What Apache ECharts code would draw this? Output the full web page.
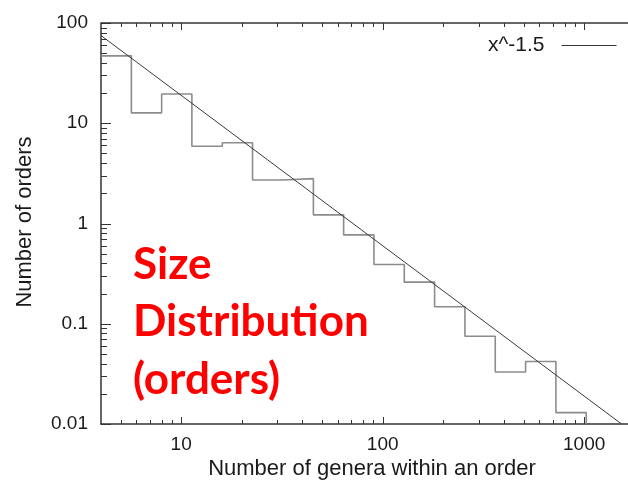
<!DOCTYPE html>
<html>
<head>
<meta charset="utf-8">
<script src="https://cdn.jsdelivr.net/npm/echarts@6/dist/echarts.min.js"></script>
<style>
html, body { margin: 0; padding: 0; background: #fff; }
#main { width: 628px; height: 487px; }
</style>
</head>
<body>
<div id="main"></div>
<script>
// log bins (factor sqrt 2) and their heights
var binEdges = [4, 5.66, 8, 11.3, 16, 22.6, 32, 45.3, 64, 90.5, 128, 181, 256, 362, 512, 724, 1024];
var binCounts = [47, 12.7, 19.6, 5.9, 6.4, 2.72, 2.8, 1.22, 0.77, 0.39, 0.26, 0.148, 0.075, 0.033, 0.042, 0.013];
// the x^-1.5 guide line, two end points
var fitX = [4, 1533];
var fitY = [75, 0.01];
// tick values
var xMajor = [10, 100, 1000];
var xMinor = [5, 6, 7, 8, 9, 20, 30, 40, 50, 60, 70, 80, 90, 200, 300, 400, 500, 600, 700, 800, 900];
var yMajor = [0.01, 0.1, 1, 10, 100];
var yMinor = [0.02, 0.03, 0.04, 0.05, 0.06, 0.07, 0.08, 0.09,
              0.2, 0.3, 0.4, 0.5, 0.6, 0.7, 0.8, 0.9,
              2, 3, 4, 5, 6, 7, 8, 9,
              20, 30, 40, 50, 60, 70, 80, 90];
var overlayLines = ['Size', 'Distribution', '(orders)'];

var xMin = 4, xMax = 1650, yMin = 0.01, yMax = 100;
var axisColor = '#333';
var txtColor = '#1a1a1a';
var tickFont = 'Liberation Sans, Arial, sans-serif';

// step points
var stepData = [];
for (var i = 0; i < binCounts.length; i++) {
	stepData.push([binEdges[i], binCounts[i]]);
}
stepData.push([binEdges[binEdges.length - 1], binCounts[binCounts.length - 1]]);
stepData.push([binEdges[binEdges.length - 1], yMin]);

var fitData = [];
for (var j = 0; j < fitX.length; j++) {
	fitData.push([fitX[j], fitY[j]]);
}

function seg(x1, y1, x2, y2, w) {
	return {
		type: 'line',
		shape: { x1: x1, y1: y1, x2: x2, y2: y2 },
		style: { stroke: axisColor, lineWidth: w || 1 }
	};
}

// gnuplot style frame: top border and inward ticks on the bottom, top and left edges
function renderFrame(params, api) {
	var left = api.coord([xMin, yMin])[0];
	var right = api.coord([xMax, yMin])[0];
	var bottom = api.coord([xMin, yMin])[1];
	var top = api.coord([xMin, yMax])[1];
	var kids = [seg(left, top, right, top, 1.5)];
	var n, p;
	for (n = 0; n < xMajor.length; n++) {
		p = Math.round(api.coord([xMajor[n], yMin])[0]) + 0.5;
		kids.push(seg(p, bottom, p, bottom - 7));
		kids.push(seg(p, top, p, top + 7));
	}
	for (n = 0; n < xMinor.length; n++) {
		p = Math.round(api.coord([xMinor[n], yMin])[0]) + 0.5;
		kids.push(seg(p, bottom, p, bottom - 4));
		kids.push(seg(p, top, p, top + 4));
	}
	for (n = 0; n < yMajor.length; n++) {
		p = Math.round(api.coord([xMin, yMajor[n]])[1]) + 0.5;
		kids.push(seg(left, p, left + 10, p));
	}
	for (n = 0; n < yMinor.length; n++) {
		p = Math.round(api.coord([xMin, yMinor[n]])[1]) + 0.5;
		kids.push(seg(left, p, left + 6, p));
	}
	return { type: 'group', children: kids };
}

var textEls = [{
	type: 'text',
	x: 372,
	y: 469,
	style: {
		text: 'Number of genera within an order',
		fill: txtColor,
		font: '22px ' + tickFont,
		align: 'center',
		verticalAlign: 'middle'
	}
}, {
	type: 'text',
	x: 25,
	y: 222,
	rotation: Math.PI / 2,
	style: {
		text: 'Number of orders',
		fill: txtColor,
		font: '22px ' + tickFont,
		align: 'center',
		verticalAlign: 'middle'
	}
}];
var lineY = [268, 325, 383];
for (var k = 0; k < overlayLines.length; k++) {
	textEls.push({
		type: 'text',
		left: 133,
		top: lineY[k] - 25,
		style: {
			text: overlayLines[k],
			fill: '#ff0000',
			font: 'bold 44px Lato, "Open Sans", sans-serif'
		}
	});
}

var myChart = echarts.init(document.getElementById('main'));
myChart.setOption({
	animation: false,
	backgroundColor: '#fff',
	grid: { left: 101, right: 0, top: 23, bottom: 63, outerBoundsMode: 'none' },
	legend: {
		data: ['x^-1.5'],
		left: 483,
		top: 30,
		align: 'right',
		icon: 'rect',
		itemWidth: 55,
		itemHeight: 1.2,
		textStyle: { color: txtColor, fontSize: 21, fontFamily: tickFont, padding: [0, 12, 0, 0] }
	},
	xAxis: {
		type: 'log',
		min: xMin,
		max: xMax,
		axisLine: { show: true, onZero: false, lineStyle: { color: axisColor, width: 1.5 } },
		axisTick: { show: false },
		axisLabel: {
			customValues: xMajor,
			margin: 11,
			color: txtColor,
			fontSize: 19,
			fontFamily: tickFont,
			formatter: function (v) { return String(v); }
		},
		splitLine: { show: false }
	},
	yAxis: {
		type: 'log',
		min: yMin,
		max: yMax,
		axisLine: { show: true, onZero: false, lineStyle: { color: axisColor, width: 1.5 } },
		axisTick: { show: false },
		axisLabel: {
			margin: 13,
			color: txtColor,
			fontSize: 19,
			fontFamily: tickFont,
			formatter: function (v) { return String(v); }
		},
		splitLine: { show: false }
	},
	series: [{
		name: 'frame',
		type: 'custom',
		renderItem: renderFrame,
		data: [[xMin, yMin]],
		clip: false,
		silent: true,
		z: 5
	}, {
		name: 'counts',
		type: 'line',
		step: 'end',
		data: stepData,
		symbol: 'none',
		lineStyle: { color: '#8c8c8c', width: 1.6 },
		itemStyle: { color: '#8c8c8c' },
		silent: true
	}, {
		name: 'x^-1.5',
		type: 'line',
		data: fitData,
		symbol: 'none',
		lineStyle: { color: '#3a3a3a', width: 1 },
		itemStyle: { color: '#3a3a3a' },
		silent: true
	}],
	graphic: textEls
});
</script>
</body>
</html>
